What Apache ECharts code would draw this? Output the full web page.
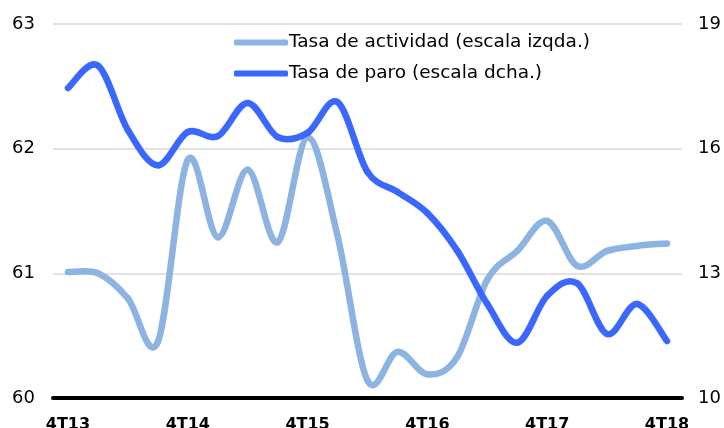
<!DOCTYPE html>
<html><head><meta charset="utf-8">
<script src="https://cdn.jsdelivr.net/npm/echarts@6/dist/echarts.min.js"></script>
<style>html,body{margin:0;padding:0;background:#fff}#c{width:724px;height:428px}</style>
</head><body><div id="c"></div>
<script>
const categories = ['4T13','1T14','2T14','3T14','4T14','1T15','2T15','3T15','4T15','1T16','2T16','3T16','4T16','1T17','2T17','3T17','4T17','1T18','2T18','3T18','4T18'];
const tasaActividad = [61.01,61.0,60.8,60.45,61.91,61.29,61.83,61.25,62.09,61.3,60.14,60.37,60.19,60.33,60.95,61.18,61.42,61.06,61.18,61.22,61.24];
const tasaParo = [17.46,18.0,16.45,15.6,16.4,16.3,17.1,16.28,16.38,17.12,15.44,14.96,14.45,13.54,12.26,11.33,12.46,12.76,11.54,12.26,11.37];
const leftTicks = [60,61,62,63];
const rightTicks = [10,13,16,19];

function smoothRenderer(values, color){
  return function(params, api){
    const i = params.dataIndex;
    const n = values.length;
    if (i >= n - 1) return null;
    const pt = k => api.coord([Math.max(0,Math.min(n-1,k)), values[Math.max(0,Math.min(n-1,k))]]);
    const p0 = pt(i-1), p1 = pt(i), p2 = pt(i+1), p3 = pt(i+2);
    const t = 1/6;
    return {
      type:'bezierCurve',
      shape:{
        x1:p1[0], y1:p1[1], x2:p2[0], y2:p2[1],
        cpx1:p1[0]+(p2[0]-p0[0])*t, cpy1:p1[1]+(p2[1]-p0[1])*t,
        cpx2:p2[0]-(p3[0]-p1[0])*t, cpy2:p2[1]-(p3[1]-p1[1])*t
      },
      style:{stroke:color, lineWidth:6.5, fill:null, lineCap:'round'},
      silent:true
    };
  };
}

const colAct = '#8DB3E2', colParo = '#3A68FF';
const chart = echarts.init(document.getElementById('c'));
chart.setOption({
  animation:false,
  textStyle:{fontFamily:'DejaVu Sans'},
  grid:{left:53,right:42,top:24,bottom:30,containLabel:false,outerBoundsMode:'none'},
  legend:{
    orient:'vertical', left:229, top:28, itemGap:12,
    itemWidth:54, itemHeight:6, icon:'roundRect',
    textStyle:{fontSize:18.5,color:'#000',fontFamily:'DejaVu Sans',padding:[0,0,0,-4]},
    data:['Tasa de actividad (escala izqda.)','Tasa de paro (escala dcha.)']
  },
  xAxis:{
    type:'category', data:categories, boundaryGap:true,
    axisLine:{lineStyle:{color:'#000',width:4}},
    axisTick:{show:false},
    axisLabel:{interval:3,fontWeight:'bold',fontSize:16,color:'#000',margin:19}
  },
  yAxis:[
    {type:'value',min:leftTicks[0],max:leftTicks[leftTicks.length-1],interval:1,
     axisLine:{show:false},axisTick:{show:false},
     axisLabel:{fontSize:18,color:'#000',margin:18},
     splitLine:{lineStyle:{color:'#d9d9d9',width:1.5}}},
    {type:'value',min:rightTicks[0],max:rightTicks[rightTicks.length-1],interval:3,
     axisLine:{show:false},axisTick:{show:false},
     axisLabel:{fontSize:18,color:'#000',margin:16},
     splitLine:{show:false}}
  ],
  series:[
    {name:'Tasa de actividad (escala izqda.)',type:'custom',yAxisIndex:0,
     data:tasaActividad.map((v,i)=>[i,v]),encode:{x:0,y:1},
     renderItem:smoothRenderer(tasaActividad,colAct),itemStyle:{color:colAct}},
    {name:'Tasa de paro (escala dcha.)',type:'custom',yAxisIndex:1,
     data:tasaParo.map((v,i)=>[i,v]),encode:{x:0,y:1},
     renderItem:smoothRenderer(tasaParo,colParo),itemStyle:{color:colParo}}
  ]
});
</script></body></html>
